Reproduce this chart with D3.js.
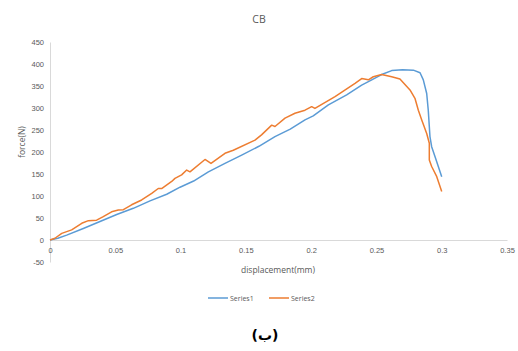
<!DOCTYPE html>
<html>
<head>
<meta charset="utf-8">
<script src="https://cdn.jsdelivr.net/npm/d3@7"></script>
<style>
  body { margin: 0; background: #fff; }
  svg { display: block; font-family: "Open Sans", "Liberation Sans", sans-serif; }
  .tick text { fill: #595959; font-size: 7.5px; }
</style>
</head>
<body>
<script>
// Series1 (azul)
const disp1 = [0, 0.006, 0.0128, 0.0255, 0.0383, 0.0511, 0.0638, 0.0766, 0.0894, 0.0996, 0.11, 0.1213, 0.134, 0.1468, 0.16, 0.1723, 0.184, 0.1953, 0.2016, 0.2132, 0.2272, 0.2387, 0.2464, 0.254, 0.2617, 0.27, 0.2783, 0.2834, 0.2859, 0.2885, 0.2897, 0.291, 0.2923, 0.2949, 0.3];
const force1 = [0, 4, 11, 26, 42, 58, 72, 89, 104, 120, 134, 155, 174, 193, 213, 235, 252, 273, 282, 307, 330, 352, 364, 376, 385, 387, 386, 380, 364, 333, 295, 235, 212, 189, 144];

// Series2 (naranja)
const disp2 = [0, 0.0038, 0.009, 0.0166, 0.0243, 0.0294, 0.0357, 0.0408, 0.0472, 0.0523, 0.0562, 0.0625, 0.0702, 0.0779, 0.0829, 0.0855, 0.0932, 0.0957, 0.1008, 0.1047, 0.1072, 0.1187, 0.1233, 0.134, 0.1404, 0.157, 0.162, 0.1698, 0.1723, 0.18, 0.1876, 0.1953, 0.2004, 0.2029, 0.2183, 0.2336, 0.2387, 0.2438, 0.2476, 0.254, 0.2617, 0.268, 0.2757, 0.2795, 0.2821, 0.2847, 0.2885, 0.2905, 0.2905, 0.2923, 0.2962, 0.3];
const force2 = [0, 4, 15, 23, 38, 44, 45, 53, 64, 68, 69, 80, 91, 106, 117, 117, 133, 140, 148, 159, 155, 183, 174, 197, 204, 227, 239, 261, 258, 277, 288, 295, 303, 299, 326, 356, 367, 364, 371, 376, 371, 366, 341, 322, 295, 273, 242, 220, 182, 167, 144, 110];

const xTicks = [0, 0.05, 0.1, 0.15, 0.2, 0.25, 0.3, 0.35];
const yTicks = [-50, 0, 50, 100, 150, 200, 250, 300, 350, 400, 450];
const seriesNames = ["Series1", "Series2"];
const colores = ["#5B9BD5", "#ED7D31"];

const width = 518, height = 351;

const svg = d3.select("body").append("svg")
  .attr("width", width)
  .attr("height", height);

// Escalas
const x = d3.scaleLinear().domain([0, 0.35]).range([50, 507]);
const y = d3.scaleLinear().domain([-50, 450]).range([262, 42]);

// Eje Y
const gy = svg.append("g")
  .attr("transform", `translate(${x(0)},0)`)
  .call(d3.axisLeft(y).tickValues(yTicks).tickSize(0).tickSizeOuter(0).tickPadding(6)
    .tickFormat(d => String(d)));
gy.select(".domain").attr("stroke", "#d9d9d9");

// Eje X (cruza en 0)
const gx = svg.append("g")
  .attr("transform", `translate(0,${y(0)})`)
  .call(d3.axisBottom(x).tickValues(xTicks).tickSize(0).tickSizeOuter(0).tickPadding(8)
    .tickFormat(d => String(+d.toFixed(2))));
gx.select(".domain").attr("stroke", "#d9d9d9");

// Lineas
const line = d3.line()
  .x(d => x(d[0]))
  .y(d => y(d[1]));

const series = [d3.zip(disp1, force1), d3.zip(disp2, force2)];

svg.selectAll(".serie")
  .data(series)
  .enter().append("path")
  .attr("class", "serie")
  .attr("fill", "none")
  .attr("stroke", (d, i) => colores[i])
  .attr("stroke-width", 1.5)
  .attr("stroke-linejoin", "round")
  .attr("d", line);

// Titulos
svg.append("text")
  .attr("x", 259).attr("y", 23)
  .attr("text-anchor", "middle")
  .attr("fill", "#595959")
  .style("font-size", "10.5px")
  .text("CB");

svg.append("text")
  .attr("x", 278).attr("y", 273)
  .attr("text-anchor", "middle")
  .attr("fill", "#595959")
  .style("font-size", "8.5px")
  .text("displacement(mm)");

svg.append("text")
  .attr("transform", "translate(25,142) rotate(-90)")
  .attr("text-anchor", "middle")
  .attr("fill", "#595959")
  .style("font-size", "8.5px")
  .text("force(N)");

// Leyenda
const legX = [208, 269];
const leg = svg.selectAll(".leg")
  .data(seriesNames)
  .enter().append("g")
  .attr("class", "leg")
  .attr("transform", (d, i) => `translate(${legX[i]},298)`);
leg.append("line")
  .attr("x1", 0).attr("x2", 20)
  .attr("stroke", (d, i) => colores[i])
  .attr("stroke-width", 1.5);
leg.append("text")
  .attr("x", 22).attr("y", 2.5)
  .attr("fill", "#595959")
  .style("font-size", "7px")
  .text(d => d);

// Etiqueta inferior
svg.append("text")
  .attr("x", 265).attr("y", 340)
  .attr("text-anchor", "middle")
  .attr("fill", "#000")
  .style("font-size", "14px")
  .style("font-weight", "bold")
  .style("font-family", "'DejaVu Sans', sans-serif")
  .text("(ب)");
</script>
</body>
</html>
